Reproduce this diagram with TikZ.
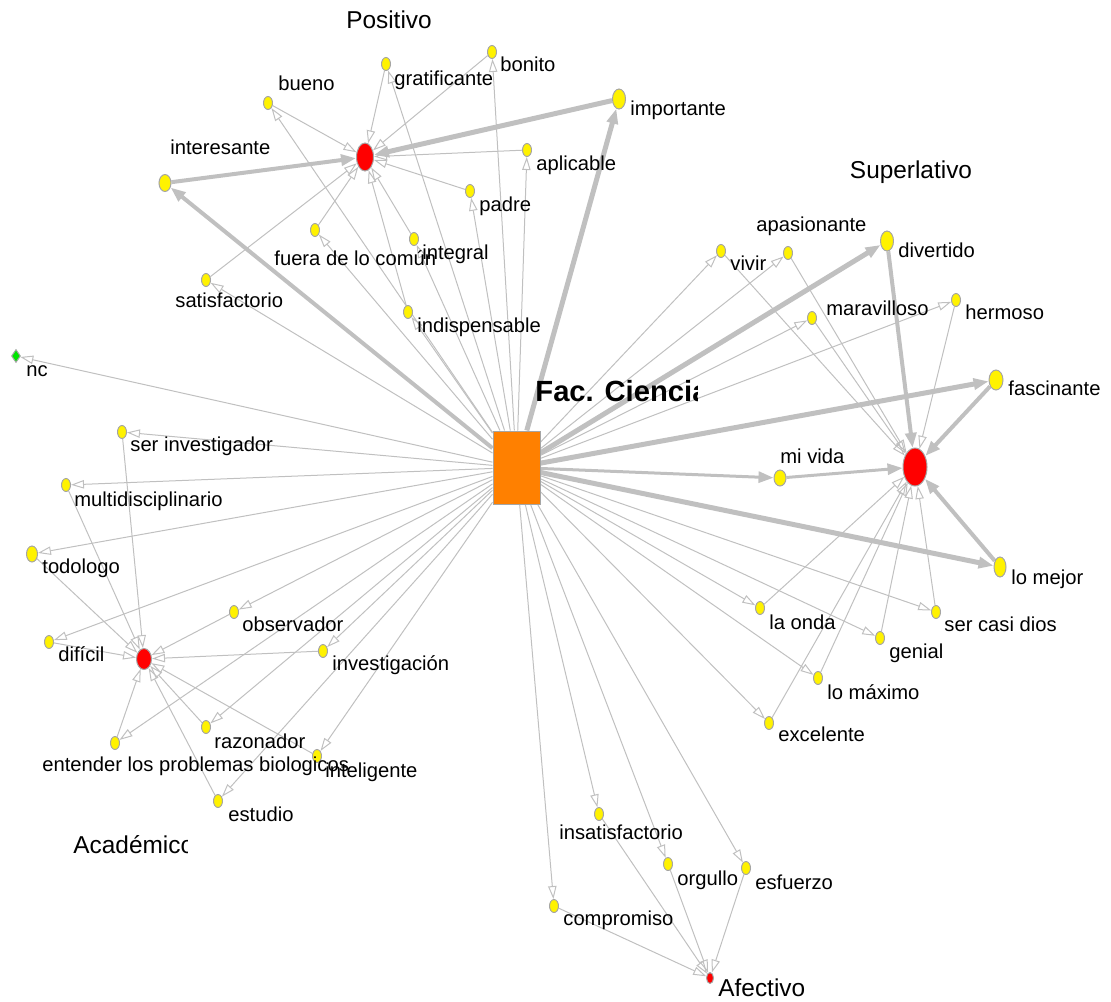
\documentclass[tikz,border=0pt]{standalone}
\usepackage{fontspec}
\setmainfont{Liberation Sans}
\usetikzlibrary{shapes.geometric,arrows.meta,backgrounds}
\definecolor{eg}{RGB}{192,192,192}
\definecolor{nb}{RGB}{165,165,165}
\definecolor{hubor}{RGB}{255,128,0}
\definecolor{ngreen}{RGB}{0,230,0}
\begin{document}
\begin{tikzpicture}[x=0.5pt,y=-0.5pt,
  yn/.style={ellipse,fill=yellow,draw=nb,line width=0.5pt,inner sep=0pt,minimum width=4.5pt,minimum height=6.5pt},
  rn/.style={ellipse,fill=red,draw=nb,line width=0.5pt,inner sep=0pt},
  lbl/.style={anchor=west,inner sep=0pt,yshift=-1pt,font=\fontsize{10.1}{12}\selectfont,text height=7.4pt,text depth=2pt},
  glbl/.style={inner sep=0pt,yshift=-1pt,font=\fontsize{12.2}{14}\selectfont,text height=8.8pt,text depth=2.4pt},
  e/.style={draw=eg,line width=0.5pt,-{Triangle[open,length=6.5pt,width=4.2pt]}},
  et/.style={draw=eg,line width=#1,-{Triangle[length=7.5pt,width=5.5pt]}}
]
\useasboundingbox (0,0) rectangle (1111,1001);
% hubs
\node[draw=nb,fill=hubor,line width=0.5pt,minimum width=23.5pt,minimum height=36.5pt,inner sep=0pt] (H) at (516.5,467.5) {};
\node[rn,minimum width=8.5pt,minimum height=14pt] (P) at (365,157) {};
\node[rn,minimum width=12pt,minimum height=19pt] (S) at (915,467) {};
\node[rn,minimum width=7.5pt,minimum height=10.5pt] (A) at (144,659) {};
\node[rn,minimum width=3.5pt,minimum height=5.5pt] (F) at (710,978) {};
% yellow nodes
\node[yn] (bueno) at (268,103) {};
\node[yn] (grat) at (386,64) {};
\node[yn] (bonito) at (492,52) {};
\node[yn,minimum width=6.5pt,minimum height=10pt] (importante) at (619,99) {};
\node[yn,minimum width=6pt,minimum height=8.5pt] (interesante) at (165,183) {};
\node[yn] (aplicable) at (527,150) {};
\node[yn] (padre) at (470,191) {};
\node[yn] (fuera) at (315,230) {};
\node[yn] (integral) at (414,239) {};
\node[yn] (satisf) at (206,280) {};
\node[yn] (indisp) at (408,312) {};
\node[diamond,fill=ngreen,draw=nb,line width=0.5pt,inner sep=0pt,minimum width=4.5pt,minimum height=6.5pt] (nc) at (16,356) {};
\node[yn] (vivir) at (721,251) {};
\node[yn] (apas) at (788,253) {};
\node[yn,minimum width=6.5pt,minimum height=10pt] (divertido) at (887,241) {};
\node[yn] (marav) at (812,318) {};
\node[yn] (hermoso) at (956,300) {};
\node[yn,minimum width=7pt,minimum height=10pt] (fasc) at (996,380) {};
\node[yn,minimum width=6pt,minimum height=8pt] (mivida) at (780,478) {};
\node[yn,minimum width=6pt,minimum height=10pt] (lomejor) at (1000,567) {};
\node[yn] (laonda) at (760,608) {};
\node[yn] (casidios) at (936,612) {};
\node[yn] (genial) at (880,638) {};
\node[yn] (lomax) at (818,678) {};
\node[yn] (excel) at (769,723) {};
\node[yn] (serinv) at (122,432) {};
\node[yn] (multi) at (66,485) {};
\node[yn,minimum width=5.5pt,minimum height=8pt] (todo) at (32,554) {};
\node[yn] (dificil) at (49,642) {};
\node[yn] (observ) at (234,612) {};
\node[yn] (invest) at (323,651) {};
\node[yn] (razon) at (206,727) {};
\node[yn] (entender) at (115,743) {};
\node[yn] (intelig) at (317,756) {};
\node[yn] (estudio) at (218,801) {};
\node[yn] (insat) at (599,814) {};
\node[yn] (orgullo) at (668,864) {};
\node[yn] (esfuerzo) at (746,868) {};
\node[yn] (compr) at (554,906) {};
% edges
\begin{scope}[on background layer]
\foreach \n in {bueno,grat,bonito,aplicable,padre,fuera,integral,satisf,indisp,nc,vivir,apas,marav,hermoso,laonda,casidios,genial,lomax,excel,serinv,multi,todo,dificil,observ,invest,razon,entender,intelig,estudio,insat,orgullo,esfuerzo,compr}
  \draw[e] (H) -- (\n);
\draw[et=2.5pt] (H) -- (importante);
\draw[et=2pt] (H) -- (interesante);
\draw[et=2.5pt] (H) -- (divertido);
\draw[et=2.5pt] (H) -- (fasc);
\draw[et=2.5pt] (H) -- (lomejor);
\draw[et=1.5pt] (H) -- (mivida);
\foreach \n in {bueno,grat,bonito,aplicable,padre,fuera,integral,satisf,indisp}
  \draw[e] (\n) -- (P);
\draw[et=2.5pt] (importante) -- (P);
\draw[et=2pt] (interesante) -- (P);
\foreach \n in {vivir,apas,marav,hermoso,laonda,casidios,genial,lomax,excel}
  \draw[e] (\n) -- (S);
\draw[et=2pt] (divertido) -- (S);
\draw[et=2pt] (fasc) -- (S);
\draw[et=2pt] (lomejor) -- (S);
\draw[et=1.5pt] (mivida) -- (S);
\foreach \n in {serinv,multi,todo,dificil,observ,invest,razon,entender,intelig,estudio}
  \draw[e] (\n) -- (A);
\foreach \n in {insat,orgullo,esfuerzo,compr}
  \draw[e] (\n) -- (F);
\end{scope}
% labels
\node[lbl] (l-bueno) at (278,83) {bueno};
\node[lbl] (l-grat) at (394,78) {gratificante};
\node[lbl] (l-bonito) at (500,64) {bonito};
\node[lbl] (l-importante) at (630,108) {importante};
\node[lbl] (l-interesante) at (170,147) {interesante};
\node[lbl] (l-aplicable) at (536,163) {aplicable};
\node[lbl] (l-padre) at (479,204) {padre};
\node[lbl] (l-fuera) at (274,258) {fuera de lo común};
\node[lbl] (l-integral) at (422,252) {integral};
\node[lbl] (l-satisf) at (175,300) {satisfactorio};
\node[lbl] (l-indisp) at (417,325) {indispensable};
\node[lbl] (l-nc) at (26,369) {nc};
\node[lbl] (l-vivir) at (730,263) {vivir};
\node[lbl] (l-apas) at (756,224) {apasionante};
\node[lbl] (l-divertido) at (898,250) {divertido};
\node[lbl] (l-marav) at (826,308) {maravilloso};
\node[lbl] (l-hermoso) at (965,312) {hermoso};
\node[lbl] (l-fasc) at (1008,388) {fascinante};
\node[lbl] (l-mivida) at (780,456) {mi vida};
\node[lbl] (l-lomejor) at (1011,577) {lo mejor};
\node[lbl] (l-laonda) at (769,622) {la onda};
\node[lbl] (l-casidios) at (944,624) {ser casi dios};
\node[lbl] (l-genial) at (889,651) {genial};
\node[lbl] (l-lomax) at (827,692) {lo máximo};
\node[lbl] (l-excel) at (778,734) {excelente};
\node[lbl] (l-serinv) at (130,444) {ser investigador};
\node[lbl] (l-multi) at (74,499) {multidisciplinario};
\node[lbl] (l-todo) at (42,566) {todologo};
\node[lbl] (l-dificil) at (58,654) {difícil};
\node[lbl] (l-observ) at (242,624) {observador};
\node[lbl] (l-invest) at (332,663) {investigación};
\node[lbl] (l-razon) at (214,741) {razonador};
\node[lbl] (l-entender) at (42,764) {entender los problemas biologicos};
\node[lbl] (l-intelig) at (325,770) {inteligente};
\node[lbl] (l-estudio) at (228,814) {estudio};
\node[lbl] (l-insat) at (559,832) {insatisfactorio};
\node[lbl] (l-orgullo) at (677,878) {orgullo};
\node[lbl] (l-esfuerzo) at (755,882) {esfuerzo};
\node[lbl] (l-compr) at (563,918) {compromiso};
% group labels
\node[glbl] (g-pos) at (389,20) {Positivo};
\node[glbl] (g-sup) at (911,170) {Superlativo};
\node[glbl,anchor=west] (g-afe) at (718,988) {Afectivo};
\begin{scope}
\clip (60,820) rectangle (187,870);
\node[glbl,anchor=west] (g-aca) at (73,845) {Académico};
\end{scope}
\begin{scope}
\clip (525,360) rectangle (697,412);
\node[anchor=west,inner sep=0pt,font=\fontsize{14.6}{17}\selectfont\bfseries,text height=10.5pt,text depth=0pt] (g-fac) at (535,391) {Fac. Ciencias};
\end{scope}
\end{tikzpicture}
\end{document}
